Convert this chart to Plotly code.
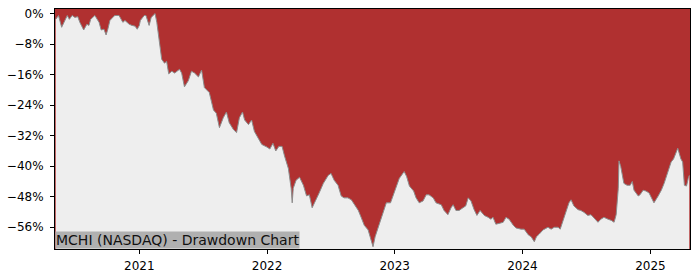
import plotly.graph_objects as go

dates = [
"2020-05-07","2020-05-15","2020-05-24","2020-06-01","2020-06-09","2020-06-15","2020-06-23","2020-07-01","2020-07-09","2020-07-15",
"2020-07-26","2020-08-04","2020-08-10","2020-08-15","2020-08-27","2020-09-08","2020-09-14","2020-09-22","2020-09-28","2020-10-03",
"2020-10-09","2020-10-17","2020-10-23","2020-11-04","2020-11-15","2020-11-21","2020-12-03","2020-12-11","2020-12-20","2020-12-26",
"2021-01-01","2021-01-04","2021-01-15","2021-01-20","2021-01-29","2021-02-04","2021-02-12","2021-02-15","2021-02-20","2021-02-26",
"2021-03-06","2021-03-14","2021-03-20","2021-03-26","2021-04-04","2021-04-12","2021-04-26","2021-05-02","2021-05-10","2021-05-21",
"2021-05-30","2021-06-08","2021-06-19","2021-06-28","2021-07-06","2021-07-20","2021-08-01","2021-08-09","2021-08-18","2021-08-29",
"2021-09-07","2021-09-15","2021-09-27","2021-10-06","2021-10-14","2021-10-23","2021-10-29","2021-11-09","2021-11-18","2021-11-26",
"2021-12-08","2021-12-17","2022-01-01","2022-01-09","2022-01-18","2022-01-26","2022-02-04","2022-02-13","2022-02-20","2022-03-03",
"2022-03-11","2022-03-14","2022-03-17","2022-03-25","2022-04-04","2022-04-15","2022-04-24","2022-05-02","2022-05-10","2022-05-22",
"2022-05-30","2022-06-11","2022-06-25","2022-07-03","2022-07-12","2022-07-23","2022-08-01","2022-08-09","2022-08-20","2022-08-30",
"2022-09-08","2022-09-19","2022-09-27","2022-10-06","2022-10-17","2022-10-26","2022-10-31","2022-11-06","2022-11-15","2022-11-23",
"2022-12-03","2022-12-08","2022-12-20","2022-12-28","2023-01-06","2023-01-14","2023-01-28","2023-02-04","2023-02-12","2023-02-24",
"2023-03-03","2023-03-12","2023-03-23","2023-04-01","2023-04-09","2023-04-21","2023-04-29","2023-05-14","2023-05-22","2023-06-02",
"2023-06-11","2023-06-17","2023-06-25","2023-07-04","2023-07-15","2023-07-23","2023-07-30","2023-08-07","2023-08-16","2023-08-24",
"2023-09-02","2023-09-14","2023-09-25","2023-10-03","2023-10-09","2023-10-17","2023-10-26","2023-11-07","2023-11-15","2023-11-24",
"2023-12-06","2023-12-14","2023-12-28","2024-01-06","2024-01-18","2024-01-26","2024-02-04","2024-02-10","2024-02-18","2024-02-29",
"2024-03-14","2024-03-23","2024-04-01","2024-04-12","2024-04-18","2024-04-26","2024-05-05","2024-05-13","2024-05-19","2024-05-27",
"2024-06-08","2024-06-16","2024-06-25","2024-07-06","2024-07-15","2024-07-23","2024-08-04","2024-08-12","2024-08-21","2024-09-02",
"2024-09-11","2024-09-19","2024-09-25","2024-10-01","2024-10-03","2024-10-08","2024-10-17","2024-10-26","2024-11-04","2024-11-10",
"2024-11-15","2024-11-27","2024-12-02","2024-12-11","2024-12-19","2024-12-28","2025-01-08","2025-01-11","2025-01-23","2025-02-01",
"2025-02-09","2025-02-20","2025-03-01","2025-03-08","2025-03-20","2025-03-29","2025-04-03","2025-04-08","2025-04-14","2025-04-19",
"2025-04-22",
]

drawdown = [
-1.5,-0.5,-3.6,-1.8,-0.5,-1.5,-0.5,-1.0,-0.8,-2.3,
-4.3,-2.8,-3.1,-1.5,-0.5,-2.3,-4.3,-4.1,-5.6,-4.1,
-1.8,-1.0,-0.5,-0.5,-2.3,-1.8,-2.8,-3.1,-3.3,-4.1,
-3.1,-1.8,-0.5,-0.5,-3.1,-1.0,-0.3,0.0,-2.3,-6.9,
-12.0,-13.0,-12.5,-15.8,-15.1,-15.6,-14.6,-15.6,-19.2,-17.6,
-15.1,-15.6,-16.6,-14.8,-19.4,-20.7,-25.3,-26.1,-29.9,-27.3,
-25.8,-28.6,-30.4,-31.2,-27.3,-25.8,-27.9,-29.1,-27.9,-30.9,
-33.0,-34.3,-35.0,-35.5,-34.0,-36.0,-34.8,-34.8,-37.3,-40.6,
-45.8,-49.6,-45.8,-43.7,-42.9,-45.0,-47.8,-47.5,-50.9,-48.8,
-47.0,-44.5,-42.4,-41.9,-43.7,-45.0,-47.8,-48.3,-48.3,-48.8,
-50.1,-51.6,-53.4,-55.5,-56.7,-59.3,-61.1,-58.5,-56.0,-54.2,
-51.6,-49.6,-49.6,-47.5,-45.2,-43.2,-41.4,-42.7,-45.2,-46.5,
-48.3,-49.6,-49.1,-47.5,-47.5,-48.3,-49.6,-50.1,-51.6,-52.7,
-50.9,-50.1,-51.6,-51.6,-50.9,-50.4,-48.3,-49.1,-51.4,-52.9,
-51.6,-52.9,-53.4,-53.9,-53.4,-55.2,-55.0,-54.7,-53.4,-53.9,
-55.5,-56.2,-56.5,-56.5,-58.0,-58.5,-59.8,-58.5,-57.8,-56.7,
-56.0,-56.5,-56.0,-56.0,-56.5,-54.2,-51.6,-49.6,-48.8,-50.4,
-51.4,-51.6,-52.1,-52.9,-52.7,-53.4,-54.7,-53.9,-53.4,-53.9,
-54.2,-54.7,-52.7,-45.8,-38.6,-40.1,-44.5,-45.0,-45.0,-44.0,
-46.3,-47.8,-47.5,-46.3,-46.5,-47.0,-48.8,-49.6,-47.8,-46.3,
-44.5,-41.4,-38.9,-38.1,-35.3,-38.1,-38.9,-45.0,-45.2,-43.2,
-42.4,
]

y_tickvals = [0, -8, -16, -24, -32, -40, -48, -56]
y_ticktext = ["0%", "\u22128%", "\u221216%", "\u221224%", "\u221232%", "\u221240%", "\u221248%", "\u221256%"]
x_tickvals = ["2021-01-01", "2022-01-01", "2023-01-01", "2024-01-01", "2025-01-01"]
x_ticktext = ["2021", "2022", "2023", "2024", "2025"]
title_text = "MCHI (NASDAQ) - Drawdown Chart"

floor = -70
RED = "#b03030"
GRAY = "#eeeeee"

fig = go.Figure()
fig.add_trace(go.Scatter(x=dates, y=[floor] * len(dates), mode="lines",
                         line=dict(width=0, color=GRAY), hoverinfo="skip", showlegend=False))
fig.add_trace(go.Scatter(x=dates, y=drawdown, mode="lines", fill="tonexty", fillcolor=GRAY,
                         line=dict(color="#8c8c8c", width=1), showlegend=False))

fig.update_layout(
    width=700, height=280,
    margin=dict(l=53, r=10, t=7, b=28),
    paper_bgcolor="white",
    plot_bgcolor=RED,
    font=dict(family="DejaVu Sans", size=12, color="black"),
    showlegend=False,
    annotations=[dict(text=title_text, xref="paper", yref="paper", x=0, y=0,
                      xanchor="left", yanchor="bottom", showarrow=False,
                      bgcolor="#b0b0b0", borderpad=0,
                      font=dict(family="DejaVu Sans", size=14, color="#111111"))],
)
fig.update_xaxes(range=["2020-05-05", "2025-04-24"], tickvals=x_tickvals, ticktext=x_ticktext,
                 showgrid=False, zeroline=False, showline=True, linecolor="black", linewidth=1,
                 mirror=True, ticks="outside", ticklen=4, tickcolor="black", ticklabelstandoff=2)
fig.update_yaxes(range=[-61.7, 1.2], tickvals=y_tickvals, ticktext=y_ticktext,
                 showgrid=False, zeroline=False, showline=True, linecolor="black", linewidth=1,
                 mirror=True, ticks="outside", ticklen=4, tickcolor="black", ticklabelstandoff=4)

fig.write_html("out.html")
